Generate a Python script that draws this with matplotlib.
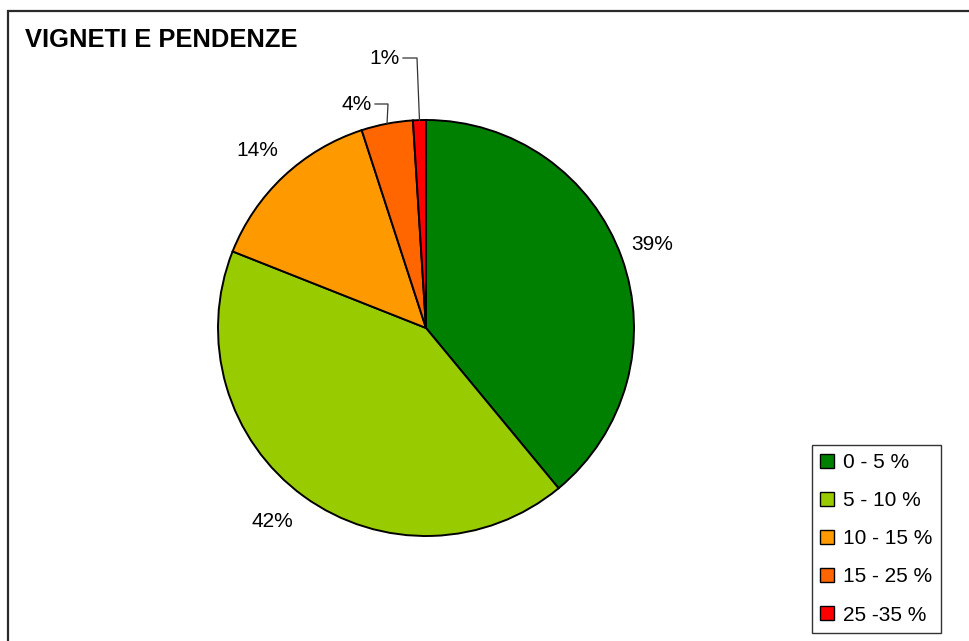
import numpy as np
import matplotlib.pyplot as plt
from matplotlib.patches import Rectangle, Patch

plt.rcParams['font.family'] = ['Liberation Sans', 'DejaVu Sans']

# pendenze dei vigneti
classi = ['0 - 5 %', '5 - 10 %', '10 - 15 %', '15 - 25 %', '25 -35 %']
quote = [39, 42, 14, 4, 1]
colori = ['#008000', '#99CC00', '#FF9900', '#FF6600', '#FF0000']
etichette = ['39%', '42%', '14%', '4%', '1%']

W, H = 969, 641
fig = plt.figure(figsize=(W / 100, H / 100), dpi=100)

# cornice del grafico (lati destro e inferiore fuori dall'immagine)
fig.patches.append(Rectangle((8 / W, -0.1), 1.2, 1 - 11 / H + 0.1,
                             transform=fig.transFigure, fill=False,
                             edgecolor='#2a2a2a', linewidth=1.6))

fig.text(25 / W, 1 - 40 / H, 'VIGNETI E PENDENZE', fontsize=18.4, fontweight='bold',
         ha='left', va='center')

cx, cy, r = 426, 328, 208
ax = fig.add_axes([(cx - r) / W, (H - cy - r) / H, 2 * r / W, 2 * r / H])
wedges, _ = ax.pie(quote, colors=colori, startangle=90, counterclock=False,
                   radius=1, wedgeprops=dict(edgecolor='black', linewidth=1.4))
ax.set_xlim(-1, 1)
ax.set_ylim(-1, 1)
ax.set_aspect('equal')
ax.axis('off')

def px(x, y):
    return (x - cx) / r, (cy - y) / r

# etichette interne alla figura
for i, (x, y) in zip([0, 1, 2], [(652, 245), (272, 522), (257, 150)]):
    ax.text(*px(x, y), etichette[i], fontsize=15, ha='center', va='center',
            clip_on=False)

# etichette con linea di richiamo per le fette piccole
for i, (tx, ty, gx) in zip([3, 4], [(372, 104, 388), (400, 58, 417)]):
    w = wedges[i]
    mid = np.deg2rad((w.theta1 + w.theta2) / 2)
    ex, ey = np.cos(mid), np.sin(mid)
    x0, y0 = px(tx + 3, ty)
    x1, _ = px(gx, ty)
    ax.plot([x0, x1, ex], [y0, y0, ey], color='#333333', linewidth=0.9,
            clip_on=False)
    ax.text(*px(tx, ty), etichette[i], fontsize=15, ha='right', va='center',
            clip_on=False)

handles = [Patch(facecolor=c, edgecolor='black', linewidth=1.0) for c in colori]
leg = fig.legend(handles, classi, loc='lower left',
                 bbox_to_anchor=(812 / W, (H - 633) / H), fontsize=15,
                 frameon=True, fancybox=False, edgecolor='black',
                 handlelength=0.65, handleheight=0.65, handletextpad=0.45,
                 labelspacing=0.92, borderpad=0.4, borderaxespad=0)
leg.get_frame().set_linewidth(1.0)

fig.savefig('out.png', dpi=100, facecolor='white')
